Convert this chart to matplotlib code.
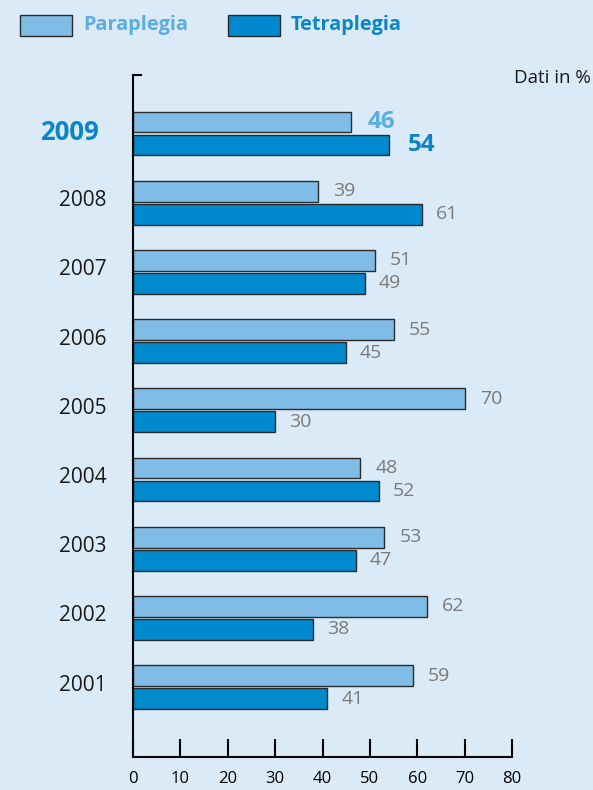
import matplotlib
matplotlib.use("Agg")
import matplotlib.pyplot as plt
from matplotlib.patches import Rectangle
from matplotlib.lines import Line2D

plt.rcParams['font.family'] = ['Open Sans', 'DejaVu Sans']

years = ['2001', '2002', '2003', '2004', '2005', '2006', '2007', '2008', '2009']
paraplegia = [59, 62, 53, 48, 70, 55, 51, 39, 46]
tetraplegia = [41, 38, 47, 52, 30, 45, 49, 61, 54]
xticks = [0, 10, 20, 30, 40, 50, 60, 70, 80]

BG = '#dbeaf7'
LIGHT = '#80bde6'
DARK = '#0089cc'
LIGHT_TXT = '#5aaee0'
DARK_TXT = '#0a86c8'
GRAY = '#7a7a7a'
EDGE = '#2b2b2b'

fig = plt.figure(figsize=(5.93, 7.90), dpi=100, facecolor=BG)
ax = fig.add_axes([133/593, 1-757/790, 379/593, (757-75)/790])
ax.set_facecolor(BG)

pos = list(range(len(years)))
off = 0.166
h = 0.30
ax.barh([p + off for p in pos], paraplegia, height=h, color=LIGHT, edgecolor=EDGE, linewidth=1.0)
ax.barh([p - off for p in pos], tetraplegia, height=h, color=DARK, edgecolor=EDGE, linewidth=1.0)

last = len(years) - 1
for i, (p, t) in enumerate(zip(paraplegia, tetraplegia)):
    if i == last:
        ax.annotate(str(p), (p, i + off), xytext=(12, 0), textcoords='offset points',
                    ha='left', va='center', fontsize=17.5, fontweight='bold', color=LIGHT_TXT)
        ax.annotate(str(t), (t, i - off), xytext=(13.5, 0), textcoords='offset points',
                    ha='left', va='center', fontsize=17.5, fontweight='bold', color=DARK_TXT)
    else:
        ax.annotate(str(p), (p, i + off), xytext=(11, 0), textcoords='offset points',
                    ha='left', va='center', fontsize=14, color=GRAY)
        ax.annotate(str(t), (t, i - off), xytext=(10, 0), textcoords='offset points',
                    ha='left', va='center', fontsize=14, color=GRAY)

for i, y in enumerate(years):
    if i == last:
        ax.annotate(y, xy=(0, i), xycoords=('axes fraction', 'data'), xytext=(-24.5, 1),
                    textcoords='offset points', ha='right', va='center',
                    fontsize=18.5, fontweight='bold', color=DARK_TXT)
    else:
        ax.annotate(y, xy=(0, i), xycoords=('axes fraction', 'data'), xytext=(-19, 1.5),
                    textcoords='offset points', ha='right', va='center',
                    fontsize=15, color='#1a1a1a')

ax.set_xlim(0, 80)
ax.set_ylim(-1.01, 8.845)
ax.set_xticks(xticks)
ax.set_xticklabels([str(v) for v in xticks], fontsize=12)
ax.tick_params(axis='x', direction='in', length=13, width=1.5, pad=10, colors='black')
ax.set_yticks([])

for s in ['top', 'right']:
    ax.spines[s].set_visible(False)
for s in ['left', 'bottom']:
    ax.spines[s].set_linewidth(1.5)

# top cap of y axis
ax.add_line(Line2D([0, 0.022], [1, 1], transform=ax.transAxes, color='black', lw=1.5, clip_on=False))

fig.text(591/593, 1-78/790, 'Dati in %', ha='right', va='center', fontsize=13.5, color='#1a1a1a')

# legend
fig.patches.append(Rectangle((20/593, 1-36/790), 52/593, 21/790, transform=fig.transFigure,
                             facecolor=LIGHT, edgecolor=EDGE, lw=1.0))
fig.patches.append(Rectangle((228/593, 1-36/790), 52/593, 21/790, transform=fig.transFigure,
                             facecolor=DARK, edgecolor=EDGE, lw=1.0))
fig.text(83/593, 1-25/790, 'Paraplegia', ha='left', va='center', fontsize=14.3, fontweight='bold', color=LIGHT_TXT)
fig.text(291/593, 1-25/790, 'Tetraplegia', ha='left', va='center', fontsize=14.3, fontweight='bold', color=DARK_TXT)

fig.savefig('out.png', dpi=100, facecolor=BG)
